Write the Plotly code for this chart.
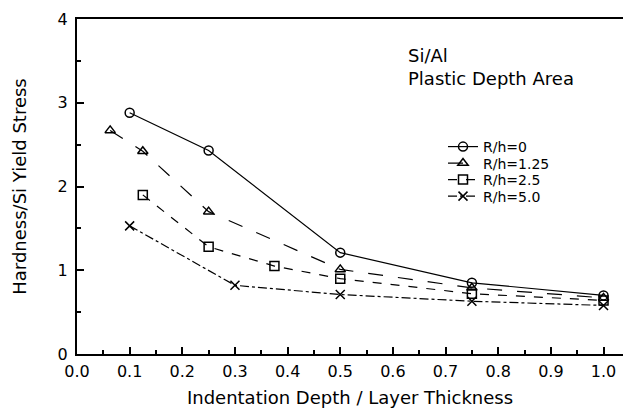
import plotly.graph_objects as go

x0 = [0.1, 0.25, 0.5, 0.75, 1.0]
y0 = [2.88, 2.43, 1.21, 0.85, 0.70]
x125 = [0.063, 0.125, 0.25, 0.5, 0.75, 1.0]
y125 = [2.67, 2.42, 1.70, 1.01, 0.79, 0.67]
x25 = [0.125, 0.25, 0.375, 0.5, 0.75, 1.0]
y25 = [1.90, 1.28, 1.05, 0.90, 0.72, 0.64]
x50 = [0.1, 0.3, 0.5, 0.75, 1.0]
y50 = [1.53, 0.82, 0.71, 0.63, 0.58]
names = ["R/h=0", "R/h=1.25", "R/h=2.5", "R/h=5.0"]

FONT = "DejaVu Sans"
ML, MR, MT, MB = 77, 0, 19, 54
W = 623 - ML - MR
H = 408 - MT - MB


def px(x):
    return (x - ML) / W


def py(y):
    return (408 - MB - y) / H


fig = go.Figure()
styles = [
    ("solid", "circle-open"),
    ("longdash", "triangle-up-open"),
    ("dash", "square-open"),
    ("dashdot", "x-thin-open"),
]
legend_ids = ["legend", "legend2", "legend3", "legend4"]
legend_y = [147, 163.5, 180, 196.5]
for (xs, ys), name, (dash, sym), lid in zip([(x0, y0), (x125, y125), (x25, y25), (x50, y50)],
                                            names, styles, legend_ids):
    fig.add_trace(go.Scatter(
        x=xs, y=ys, name=name, mode="lines+markers", legend=lid,
        line=dict(color="black", width=1.2, dash=dash),
        marker=dict(symbol=sym, size=9, color="black", line=dict(width=1.5, color="black")),
    ))

legend_common = dict(xanchor="left", yanchor="middle", bgcolor="rgba(0,0,0,0)",
                     font=dict(family=FONT, size=14, color="black"))
layout_legends = {}
for lid, ly in zip(legend_ids, legend_y):
    layout_legends[lid] = dict(x=px(443), y=py(ly), **legend_common)

fig.update_layout(
    width=623, height=408,
    margin=dict(l=ML, r=MR, t=MT, b=MB),
    paper_bgcolor="white", plot_bgcolor="white",
    font=dict(family=FONT, size=16, color="black"),
    showlegend=True,
    **layout_legends,
    xaxis=dict(range=[0, 1.037], tickvals=[0, 0.1, 0.2, 0.3, 0.4, 0.5, 0.6, 0.7, 0.8, 0.9, 1.0],
               ticktext=["0.0", "0.1", "0.2", "0.3", "0.4", "0.5", "0.6", "0.7", "0.8", "0.9", "1.0"],
               showline=True, linecolor="black", linewidth=2, mirror=True,
               ticks="inside", ticklen=7, tickwidth=1.5, tickcolor="black",
               ticklabelstandoff=2,
               minor=dict(dtick=0.05, ticks="inside", ticklen=4, tickcolor="black"),
               showgrid=False, zeroline=False,
               title=dict(text="Indentation Depth / Layer Thickness", font=dict(size=18), standoff=12)),
    yaxis=dict(range=[0, 4], tickvals=[0, 1, 2, 3, 4], showline=True, linecolor="black", linewidth=2,
               ticks="inside", ticklen=7, tickwidth=1.5, tickcolor="black",
               ticklabelstandoff=4,
               minor=dict(dtick=0.5, ticks="inside", ticklen=4, tickcolor="black"),
               showgrid=False, zeroline=False,
               title=dict(text="Hardness/Si Yield Stress", font=dict(size=18), standoff=26)),
    annotations=[
        dict(x=px(406), y=py(67), xref="paper", yref="paper", text="Si/Al<br>Plastic Depth Area",
             showarrow=False, align="left", xanchor="left", yanchor="middle",
             font=dict(size=18)),
    ],
)
fig.write_html("out.html")
